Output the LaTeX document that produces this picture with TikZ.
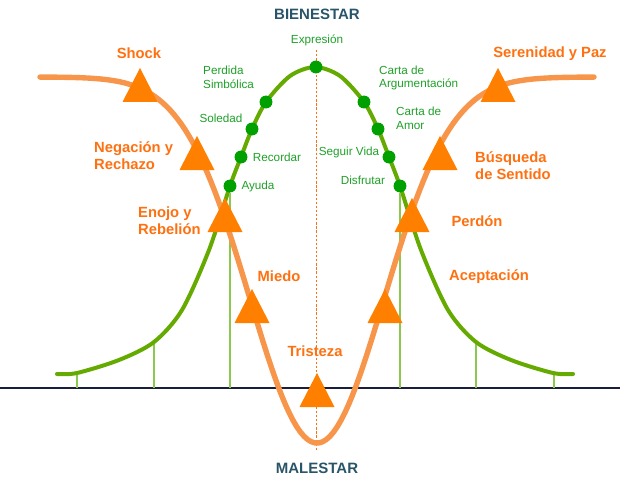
\documentclass[tikz,border=0pt]{standalone}
\usepackage{fontspec}
\setmainfont{Liberation Sans}
\usepackage{tikz}
\usetikzlibrary{calc}
\definecolor{curvaNaranja}{RGB}{247,150,74}
\definecolor{triNaranja}{RGB}{255,128,0}
\definecolor{textoNaranja}{RGB}{255,112,16}
\definecolor{curvaVerde}{RGB}{100,170,0}
\definecolor{puntoVerde}{RGB}{0,160,0}
\definecolor{textoVerde}{RGB}{30,160,40}
\definecolor{lineaVerde}{RGB}{140,200,80}
\definecolor{titulo}{RGB}{40,85,105}
\definecolor{eje}{RGB}{25,30,60}
\begin{document}
\begin{tikzpicture}[x=0.03cm,y=-0.03cm,
	etapa/.style={text=textoNaranja,font=\fontsize{12.6}{14.5}\selectfont\bfseries,inner sep=0pt},
	accion/.style={text=textoVerde,font=\fontsize{10}{11.5}\selectfont,inner sep=0pt},
	extremo/.style={text=titulo,font=\fontsize{12.8}{14}\selectfont\bfseries,inner sep=0pt},
	punto/.style={circle,fill=puntoVerde,minimum size=11pt,inner sep=0pt},
	marca/.style={lineaVerde,line width=0.9pt},
	flecha/.style={fill=triNaranja}]
	\useasboundingbox (0,0) rectangle (620,482);
	\draw[eje,line width=2pt] (0,388) coordinate(eje izq) -- (620,388) coordinate(eje der);
	\draw[textoNaranja,dashed,dash pattern=on 2pt off 1.5pt,line width=0.6pt] (316,50) -- (316,450);
	\node[extremo] (bienestar) at (317,14) {BIENESTAR};
	\node[extremo] (malestar) at (317,468) {MALESTAR};
	\draw[marca] (77,374) -- (77,388);
	\draw[marca] (154,342) -- (154,388);
	\draw[marca] (476,342) -- (476,388);
	\draw[marca] (554,374) -- (554,388);
	\draw[curvaVerde,line width=3.4pt,line cap=round] plot[smooth] coordinates {(57,374) (77,373) (119,360) (154,342) (182,310) (209,250) (230,186) (241,157) (252,129) (266,102) (290,76) (315,67) (340,76) (364,102) (378,129) (389,157) (400,186) (421,250) (448,310) (476,342) (511,360) (553,373) (573,374)};
	\node[punto] (expresion) at (316,67) {};
	\node[punto] (perdida) at (266,102) {};
	\node[punto] (soledad) at (252,129) {};
	\node[punto] (recordar) at (241,157) {};
	\node[punto] (ayuda) at (230,186) {};
	\node[punto] (carta arg) at (364,102) {};
	\node[punto] (carta amor) at (378,129) {};
	\node[punto] (seguir) at (389,157) {};
	\node[punto] (disfrutar) at (400,186) {};
	\draw[marca] (ayuda) -- (ayuda |- eje izq);
	\draw[marca] (disfrutar) -- (disfrutar |- eje izq);
	\draw[curvaNaranja,line width=4.6pt,line cap=round] plot[domain=40:594,samples=150] (\x,{77+366*exp(-((\x-317)/67)^2/2)});
	\foreach \ax/\ay in {140/68,197/136,225/198,252/289,317/373,385/289,412/198,440/136,498/68}
		\fill[flecha] (\ax,\ay) -- ++(-17.5,34) -- ++(35,0) -- cycle;
	\node[accion] (t expresion) at (317,40) {Expresión};
	\node[accion,align=left,anchor=west] (t perdida) at (203,77.5) {Perdida\\Simbólica};
	\node[accion] (t soledad) at (221,118) {Soledad};
	\node[accion] (t recordar) at (277,157) {Recordar};
	\node[accion] (t ayuda) at (258,186) {Ayuda};
	\node[accion,align=left,anchor=west] (t carta arg) at (379,78) {Carta de\\Argumentación};
	\node[accion,align=left,anchor=west] (t carta amor) at (396,118.5) {Carta de\\Amor};
	\node[accion] (t seguir) at (349,152) {Seguir Vida};
	\node[accion] (t disfrutar) at (363,180) {Disfrutar};
	\node[etapa] (shock) at (139,53) {Shock};
	\node[etapa,align=left,anchor=west] (negacion) at (94,155.5) {Negación y\\Rechazo};
	\node[etapa,align=left,anchor=west] (enojo) at (138,220.5) {Enojo y\\Rebelión};
	\node[etapa] (miedo) at (279,276) {Miedo};
	\node[etapa] (tristeza) at (315,351) {Tristeza};
	\node[etapa] (aceptacion) at (489,277) {Aceptación};
	\node[etapa] (perdon) at (477,221) {Perdón};
	\node[etapa,align=left,anchor=west] (busqueda) at (475,166) {Búsqueda\\de Sentido};
	\node[etapa] (serenidad) at (550,54) {Serenidad y Paz};
\end{tikzpicture}
\end{document}
